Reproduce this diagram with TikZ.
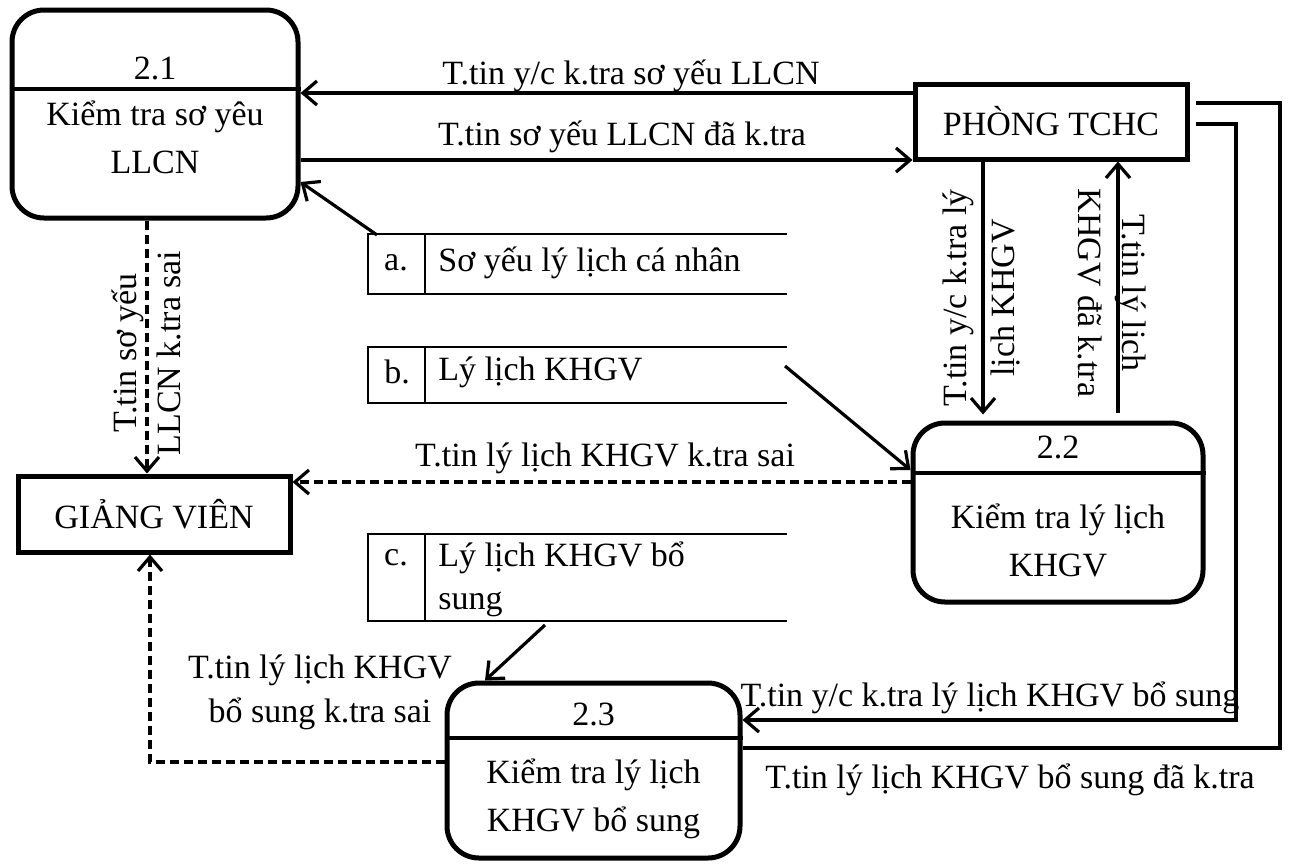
\documentclass[tikz,border=0pt]{standalone}
\usepackage{fontspec}
\setmainfont{Liberation Serif}
\usetikzlibrary{arrows.meta}

\begin{document}
\begin{tikzpicture}[x=0.5pt, y=-0.5pt,
  font=\fontsize{17}{24}\selectfont,
  proc/.style={draw, line width=2.5pt, rounded corners=16pt, inner sep=0pt},
  ext/.style={draw, line width=2.5pt, inner sep=0pt},
  flow/.style={line width=1.6pt, -{Straight Barb[length=7pt,width=12pt,line width=1.6pt]}},
  bad/.style={flow, dash pattern=on 4.5pt off 2.5pt},
  plain/.style={line width=1.6pt},
  store/.style={line width=1.1pt},
  lbl/.style={inner sep=0pt, align=center, font=\fontsize{17}{22}\selectfont}]
  \useasboundingbox (0,0) rectangle (1290,863);

  % processes and externals
  \node[proc, minimum width=143pt, minimum height=104pt] (p21) at (155,114) {};
  \node[proc, minimum width=145pt, minimum height=89.5pt] (p22) at (1058,512.5) {};
  \node[proc, minimum width=146.5pt, minimum height=87.5pt] (p23) at (593.5,770.5) {};
  \node[ext, minimum width=136pt, minimum height=37.5pt] (pTC) at (1051,121.5) {PHÒNG TCHC};
  \node[ext, minimum width=136pt, minimum height=38pt] (pGV) at (154,514) {GIẢNG VIÊN};

  \draw[line width=2.2pt] (p21.west |- 0,89) -- (p21.east |- 0,89);
  \draw[line width=2.2pt] (p22.west |- 0,473) -- (p22.east |- 0,473);
  \draw[line width=2.2pt] (p23.west |- 0,738) -- (p23.east |- 0,738);

  \node (n21) at (155,68) {2.1};
  \node[align=center] (t21) at (155,137) {Kiểm tra sơ yêu\\LLCN};
  \node (n22) at (1058,447) {2.2};
  \node[align=center] (t22) at (1058,540) {Kiểm tra lý lịch\\KHGV};
  \node (n23) at (593.5,714) {2.3};
  \node[align=center] (t23) at (593.5,799) {Kiểm tra lý lịch\\KHGV bổ sung};

  % data stores
  \draw[store] (787,234) -- (368,234) -- (368,294) -- (787,294) (425,234) -- (425,294);
  \draw[store] (787,347) -- (368,347) -- (368,403) -- (787,403) (425,347) -- (425,403);
  \draw[store] (787,534) -- (368,534) -- (368,621) -- (787,621) (425,534) -- (425,621);
  \node (ka) at (396,263) {a.};
  \node (kb) at (397,372) {b.};
  \node (kc) at (396,558) {c.};
  \node[anchor=west, inner sep=0pt] (sa) at (438,263) {Sơ yếu lý lịch cá nhân};
  \node[anchor=west, inner sep=0pt] (sb) at (438,372) {Lý lịch KHGV};
  \node[anchor=west, inner sep=0pt, align=left, font=\fontsize{17}{21.5}\selectfont] (sc) at (438,579) {Lý lịch KHGV bổ\\sung};

  \coordinate (qa) at (377,235);
  \coordinate (qb) at (785,366);
  \coordinate (qc) at (545,625);
  \coordinate (rOut) at (1280,103);
  \coordinate (rIn) at (1236,720);

  % flows
  \draw[flow] (pTC.west |- 0,93) -- (p21.east |- 0,93);
  \draw[flow] (p21.east |- 0,160) -- (pTC.west |- 0,160);
  \draw[flow] (qa) -- (p21.east |- 0,182);
  \draw[flow] (qb) -- (p22.west |- 0,470);
  \draw[flow] (qc) -- (p23.north -| 485,0);
  \draw[flow, shorten >=3pt] (pTC.south -| 983,0) -- (p22.north -| 983,0);
  \draw[flow, shorten <=4pt] (p22.north -| 1118,0) -- (pTC.south -| 1118,0);
  \draw[bad] (p21.south -| 147,0) -- (pGV.north -| 147,0);
  \draw[bad] (p22.west |- 0,482) -- (pGV.east |- 0,482);
  \draw[bad] (p23.west |- 0,762) -| (pGV.south -| 150,0);
  \draw[flow, shorten <=3pt] (pTC.east |- 0,124) -| (rIn) -- (p23.east |- 0,720);
  \draw[plain, shorten >=3pt] (p23.east |- 0,748) -| (rOut) -- (pTC.east |- 0,103);

  \node[lbl] (f1) at (631,76) {T.tin y/c k.tra sơ yếu LLCN};
  \node[lbl] (f2) at (622,137) {T.tin sơ yếu LLCN đã k.tra};
  \node[lbl, rotate=90] (f3) at (146,353) {T.tin sơ yếu\\LLCN k.tra sai};
  \node[lbl, rotate=90, font=\fontsize{17}{24}\selectfont] (f4) at (981,298) {T.tin y/c k.tra lý\\lịch KHGV};
  \node[lbl, rotate=-90] (f5) at (1112,293) {T.tin lý lịch\\KHGV đã k.tra};
  \node[lbl] (f6) at (605,458) {T.tin lý lịch KHGV k.tra sai};
  \node[lbl] (f7) at (320,692) {T.tin lý lịch KHGV\\bổ sung k.tra sai};
  \node[lbl] (f8) at (990,698) {T.tin y/c k.tra lý lịch KHGV bổ sung};
  \node[lbl] (f9) at (1010,780) {T.tin lý lịch KHGV bổ sung đã k.tra};
\end{tikzpicture}
\end{document}
